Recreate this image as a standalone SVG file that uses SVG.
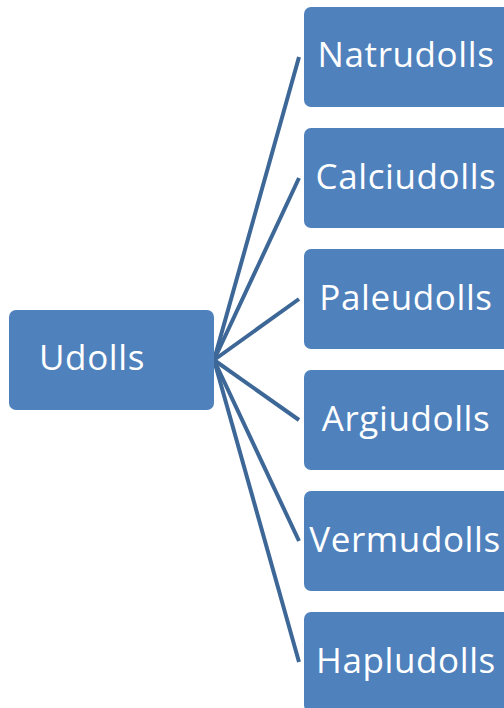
<svg xmlns="http://www.w3.org/2000/svg" width="504" height="708" viewBox="0 0 504 708">
<style>
.box{fill:#4f81bd;}
.lbl{font-family:"Open Sans","Liberation Sans",sans-serif;font-size:35px;letter-spacing:0.6px;fill:#ffffff;}
.c{text-anchor:middle;}
.conn{stroke:#3d6797;stroke-width:4;fill:none;}
</style>
<rect width="504" height="708" fill="#ffffff"/>
<g id="connectors">
<line class="conn" x1="214" y1="360" x2="299" y2="57"/>
<line class="conn" x1="214" y1="360" x2="299" y2="178"/>
<line class="conn" x1="214" y1="360" x2="299" y2="299"/>
<line class="conn" x1="214" y1="360" x2="299" y2="420"/>
<line class="conn" x1="214" y1="360" x2="299" y2="541"/>
<line class="conn" x1="214" y1="360" x2="299" y2="662"/>
</g>
<g id="udolls"><rect class="box" x="9" y="310" width="205" height="100" rx="7"/><text class="lbl" x="39" y="370">Udolls</text></g>
<g id="natrudolls"><rect class="box" x="304" y="7" width="210" height="100" rx="7"/><text class="lbl c" x="406" y="67">Natrudolls</text></g>
<g id="calciudolls"><rect class="box" x="304" y="128" width="210" height="100" rx="7"/><text class="lbl c" x="406" y="189">Calciudolls</text></g>
<g id="paleudolls"><rect class="box" x="304" y="249" width="210" height="100" rx="7"/><text class="lbl c" x="406" y="310">Paleudolls</text></g>
<g id="argiudolls"><rect class="box" x="304" y="370" width="210" height="100" rx="7"/><text class="lbl c" x="406" y="431">Argiudolls</text></g>
<g id="vermudolls"><rect class="box" x="304" y="491" width="210" height="100" rx="7"/><text class="lbl c" x="405" y="552">Vermudolls</text></g>
<g id="hapludolls"><rect class="box" x="304" y="612" width="210" height="100" rx="7"/><text class="lbl c" x="406" y="673">Hapludolls</text></g>
</svg>
